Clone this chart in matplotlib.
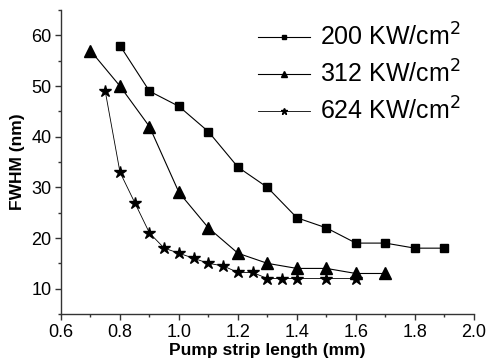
import matplotlib
matplotlib.use("Agg")
import matplotlib.pyplot as plt
from matplotlib.ticker import MultipleLocator

plt.rcParams["font.family"] = ["Liberation Sans", "DejaVu Sans"]

# FWHM vs pump strip length for three pump intensities
x_200 = [0.8, 0.9, 1.0, 1.1, 1.2, 1.3, 1.4, 1.5, 1.6, 1.7, 1.8, 1.9]
fwhm_200 = [58, 49, 46, 41, 34, 30, 24, 22, 19, 19, 18, 18]

x_312 = [0.7, 0.8, 0.9, 1.0, 1.1, 1.2, 1.3, 1.4, 1.5, 1.6, 1.7]
fwhm_312 = [57, 50, 42, 29, 22, 17, 15, 14, 14, 13, 13]

x_624 = [0.75, 0.8, 0.85, 0.9, 0.95, 1.0, 1.05, 1.1, 1.15, 1.2, 1.25,
         1.3, 1.35, 1.4, 1.5, 1.6]
fwhm_624 = [49, 33, 27, 21, 18, 17, 16, 15, 14.5, 13.2, 13.2,
            12, 12, 12, 12, 12]

labels = ["200 KW/cm$^2$", "312 KW/cm$^2$", "624 KW/cm$^2$"]

fig = plt.figure(figsize=(4.90, 3.62), dpi=100)
ax = fig.add_axes([0.1245, 0.1326, 0.8425, 0.8394])

ax.plot(x_200, fwhm_200, color="black", lw=0.8, marker="s", ms=6.3,
        label=labels[0])
ax.plot(x_312, fwhm_312, color="black", lw=0.8, marker="^", ms=8,
        label=labels[1])
ax.plot(x_624, fwhm_624, color="black", lw=0.6, marker="*", ms=9,
        label=labels[2])

ax.set_xlim(0.6, 2.0)
ax.set_ylim(5, 65)
ax.xaxis.set_major_locator(MultipleLocator(0.2))
ax.xaxis.set_minor_locator(MultipleLocator(0.1))
ax.yaxis.set_major_locator(MultipleLocator(10))
ax.yaxis.set_minor_locator(MultipleLocator(5))
ax.xaxis.set_major_formatter(plt.FuncFormatter(lambda v, p: f"{v:.1f}"))

for side in ("top", "right"):
    ax.spines[side].set_visible(False)
for side in ("left", "bottom"):
    ax.spines[side].set_linewidth(1.0)
    ax.spines[side].set_color("#333333")

ax.tick_params(which="major", direction="out", length=4, width=1.0,
               labelsize=13, pad=3, color="#333333")
ax.tick_params(which="minor", direction="out", length=2.5, width=1.0,
               color="#333333")

ax.set_xlabel("Pump strip length (mm)", fontsize=12.5, fontweight="bold",
              labelpad=2)
ax.set_ylabel("FWHM (nm)", fontsize=12.5, fontweight="bold", labelpad=4)

ax.legend(loc="upper left", bbox_to_anchor=(0.506, 0.962),
          bbox_transform=fig.transFigure, frameon=False,
          fontsize=18, numpoints=1, markerscale=0.55, handlelength=2.1,
          handletextpad=0.4, labelspacing=0.38, borderaxespad=0.0)

fig.savefig("out.png", dpi=100)
